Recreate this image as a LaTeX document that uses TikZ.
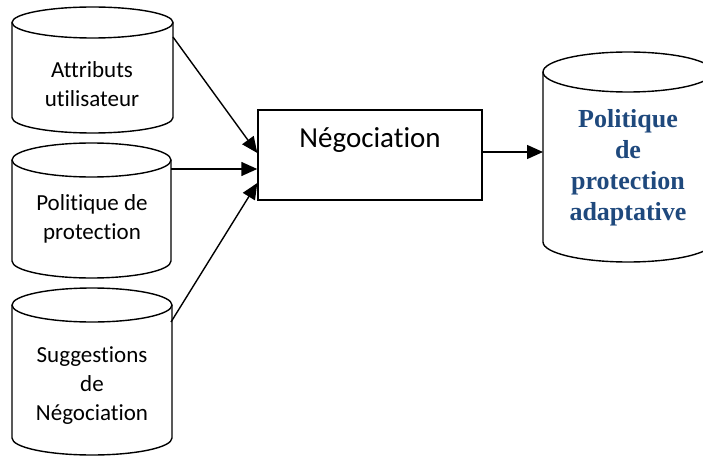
\documentclass[tikz,border=0pt]{standalone}
\usepackage{fontspec}
\setmainfont{Carlito}[Ligatures=NoCommon]
\newfontfamily\titleserif{Liberation Serif}
\usetikzlibrary{arrows.meta}
\definecolor{titleblue}{RGB}{31,73,125}

% cylinder outline: centre x, top y, bottom y, x radius, y radius
\newcommand\cylinderoutline[5]{%
  \draw[cylline] ({#1-#4},{#2+#5}) -- ({#1-#4},{#3-#5})
    arc[start angle=180, end angle=0, x radius=#4, y radius=#5]
    -- ({#1+#4},{#2+#5});
  \draw[cylline] (#1,{#2+#5}) ellipse[x radius=#4, y radius=#5];
}

\tikzset{
  cylline/.style={line width=1.4pt, line join=round},
  storetext/.style={align=center, inner sep=0pt, font=\fontsize{23}{29}\selectfont},
  resulttext/.style={align=center, inner sep=0pt, text=titleblue,
    font=\titleserif\bfseries\fontsize{26}{31}\selectfont},
  procbox/.style={draw, line width=1.4pt, minimum width=224pt, minimum height=90pt, inner sep=0pt},
  flow/.style={line width=1.4pt, -{Triangle[length=16pt, width=14pt]}}
}

\begin{document}
\begin{tikzpicture}[x=1pt, y=-1pt]
  \path[use as bounding box, clip] (0,0) rectangle (703,457);
  \fill[white] (0,0) rectangle (703,457);

  % data stores on the left
  \cylinderoutline{92.5}{7}{133}{80.5}{15.5}
  \cylinderoutline{91.5}{143}{278}{79.5}{17}
  \cylinderoutline{92}{288}{455}{80}{17}
  % resulting policy store on the right
  \cylinderoutline{628}{52}{262}{85}{20}

  \node[storetext] (attr) at (92,84) {Attributs\\utilisateur};
  \node[storetext] (polprot) at (92,219) {Politique de\\protection};
  \node[storetext] (sugg) at (92,386) {Suggestions\\de\\Négociation};
  \node[resulttext] (result) at (628,167.5) {Politique\\de\\protection\\adaptative};

  % negotiation process
  \node[procbox] (neg) at (370,155) {};
  \node[font=\fontsize{29}{35}\selectfont, inner sep=0pt] (negtext)
    at ([yshift=14.5pt]neg.center) {Négociation};

  % connection points on the stores
  \coordinate (attrout) at (173,37);
  \coordinate (polout) at (171,169);
  \coordinate (suggout) at (171,322);
  \coordinate (resin) at (543,152);

  \draw[flow] (attrout) -- ([yshift=2pt]neg.west);
  \draw[flow] (polout) -- ([yshift=-14pt]neg.west);
  \draw[flow] (suggout) -- ([yshift=-28pt]neg.west);
  \draw[flow] ([yshift=3pt]neg.east) -- (resin);
\end{tikzpicture}
\end{document}
